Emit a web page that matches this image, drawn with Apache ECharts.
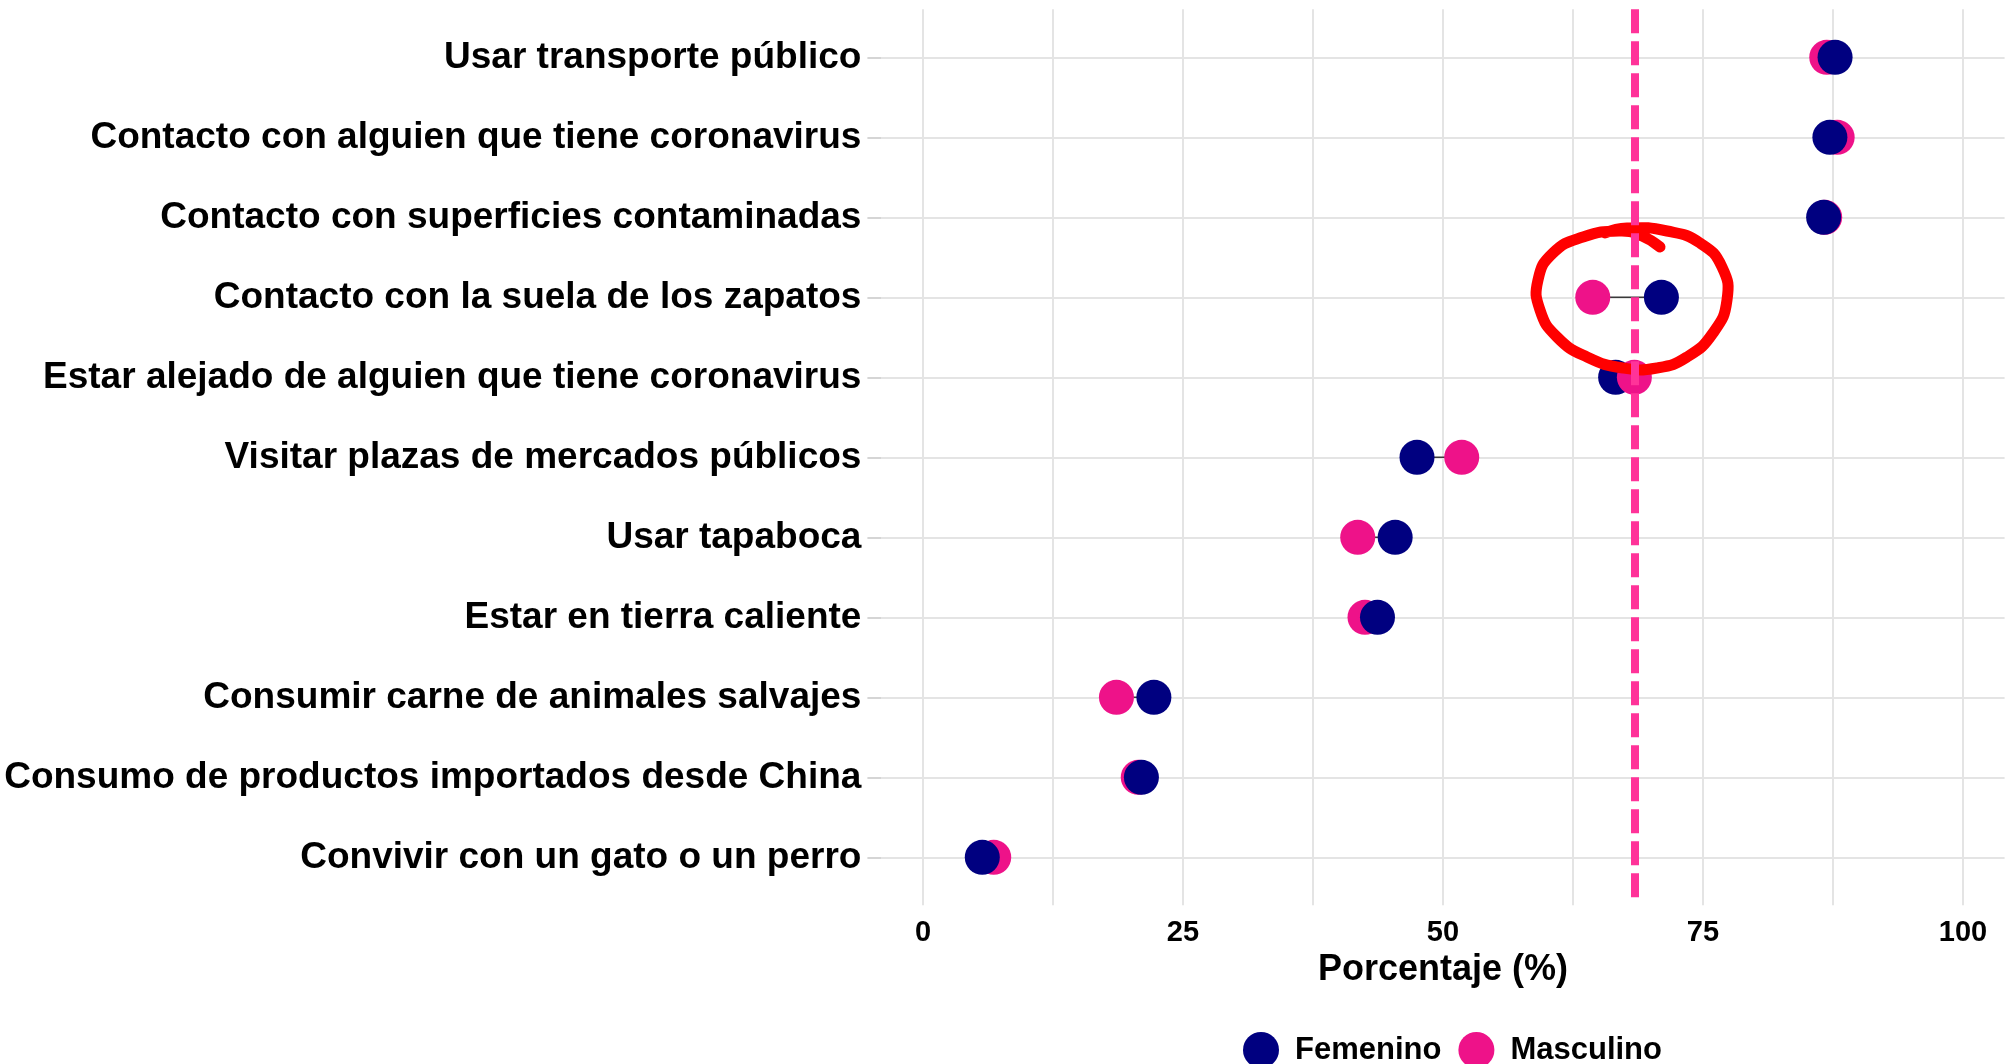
<!DOCTYPE html>
<html>
<head>
<meta charset="utf-8">
<script src="https://cdn.jsdelivr.net/npm/echarts@6/dist/echarts.min.js"></script>
<style>
  html, body { margin: 0; padding: 0; background: #fff; }
  #chart { width: 2005px; height: 1064px; }
</style>
</head>
<body>
<div id="chart"></div>
<script>
// categorias, de arriba hacia abajo
const categorias = [
  "Usar transporte público",
  "Contacto con alguien que tiene coronavirus",
  "Contacto con superficies contaminadas",
  "Contacto con la suela de los zapatos",
  "Estar alejado de alguien que tiene coronavirus",
  "Visitar plazas de mercados públicos",
  "Usar tapaboca",
  "Estar en tierra caliente",
  "Consumir carne de animales salvajes",
  "Consumo de productos importados desde China",
  "Convivir con un gato o un perro"
];
const femenino  = [87.7, 87.2, 86.6, 71.0, 66.6, 47.5, 45.4, 43.7, 22.2, 21.0, 5.7];
const masculino = [86.9, 87.9, 86.7, 64.4, 68.4, 51.8, 41.8, 42.5, 18.6, 20.7, 6.8];
const masculinoEncima = [4];   // filas donde el punto rosa queda por encima
const lineaReferencia = 68.4;
const ticksX = [0, 25, 50, 75, 100];
const lineasX = [0, 12.5, 25, 37.5, 50, 62.5, 75, 87.5, 100];
const filas = categorias.map((c, i) => i);

const fuente = 'Liberation Sans, Arial, sans-serif';
const azul = '#000080';
const rosa = '#EE1289';
const gris = '#e4e4e4';

let chart = echarts.init(document.getElementById('chart'));

let option = {
  animation: false,
  backgroundColor: '#fff',
  textStyle: { fontFamily: fuente },
  grid: {
    left: 881.4,
    right: 0.4,
    top: 9.3,
    bottom: 158.7,
    containLabel: false,
    outerBoundsMode: 'none'
  },
  legend: {
    data: ['Femenino', 'Masculino'],
    left: 1238,
    top: 1027,
    icon: 'circle',
    itemWidth: 36,
    itemHeight: 36,
    itemGap: 17,
    selectedMode: false,
    textStyle: {
      fontSize: 31,
      fontWeight: 'bold',
      color: '#000',
      fontFamily: fuente,
      padding: [0, 0, 0, 11]
    }
  },
  xAxis: {
    type: 'value',
    min: -4,
    max: 104,
    axisLine: { show: false, onZero: false },
    axisTick: { show: false, customValues: lineasX },
    axisLabel: {
      customValues: ticksX,
      fontSize: 29,
      fontWeight: 'bold',
      color: '#000',
      fontFamily: fuente,
      margin: 13
    },
    splitLine: {
      show: true,
      customValues: lineasX,
      lineStyle: { color: gris, width: 2 }
    },
    name: 'Porcentaje (%)',
    nameLocation: 'middle',
    nameGap: 45,
    nameTextStyle: {
      fontSize: 36,
      fontWeight: 'bold',
      color: '#000',
      fontFamily: fuente
    }
  },
  yAxis: {
    type: 'value',
    min: -0.6,
    max: 10.6,
    inverse: true,
    axisLine: { show: false, onZero: false },
    axisTick: {
      show: true,
      customValues: filas,
      length: 14,
      lineStyle: { color: '#c8c8c8', width: 1.5 }
    },
    axisLabel: {
      customValues: filas,
      formatter: v => categorias[Math.round(v)],
      fontSize: 37,
      fontWeight: 'bold',
      color: '#000',
      fontFamily: fuente,
      margin: 20
    },
    splitLine: {
      show: true,
      customValues: filas,
      lineStyle: { color: gris, width: 2 }
    }
  },
  graphic: [
    {
      // circulo rojo dibujado a mano
      type: 'polyline',
      z: 4,
      silent: true,
      shape: {
        smooth: 0.5,
        points: [
          [1660, 247], [1642, 236], [1620, 231], [1583, 237], [1553, 253],
          [1538, 280], [1540, 310], [1557, 337], [1587, 357], [1623, 368],
          [1657, 368], [1687, 357], [1713, 333], [1727, 300], [1722, 267],
          [1700, 243], [1667, 231], [1627, 228], [1605, 233]
        ]
      },
      style: { stroke: '#ff0000', fill: null, lineWidth: 11, lineCap: 'round', lineJoin: 'round' }
    }
  ],
  series: [
    {
      // segmento entre los dos puntos
      type: 'custom',
      z: 1,
      silent: true,
      encode: { x: [0, 1], y: 2 },
      data: filas.map(i => [masculino[i], femenino[i], i]),
      renderItem(params, api) {
        let a = api.coord([api.value(0), api.value(2)]);
        let b = api.coord([api.value(1), api.value(2)]);
        return {
          type: 'line',
          shape: { x1: a[0], y1: a[1], x2: b[0], y2: b[1] },
          style: { stroke: '#3a3a3a', lineWidth: 1.5 }
        };
      }
    },
    {
      name: 'Masculino',
      type: 'scatter',
      z: 2,
      symbol: 'circle',
      symbolSize: 35,
      itemStyle: { color: rosa, opacity: 1 },
      emphasis: { disabled: true },
      data: filas.filter(i => masculinoEncima.indexOf(i) < 0).map(i => [masculino[i], i])
    },
    {
      name: 'Femenino',
      type: 'scatter',
      z: 2,
      symbol: 'circle',
      symbolSize: 35,
      itemStyle: { color: azul, opacity: 1 },
      emphasis: { disabled: true },
      data: filas.map(i => [femenino[i], i])
    },
    {
      name: 'Masculino',
      type: 'scatter',
      z: 3,
      symbol: 'circle',
      symbolSize: 35,
      itemStyle: { color: rosa, opacity: 1 },
      emphasis: { disabled: true },
      data: masculinoEncima.map(i => [masculino[i], i]),
      markLine: {
        silent: true,
        z: 10,
        symbol: ['none', 'none'],
        label: { show: false },
        emphasis: { disabled: true },
        lineStyle: { color: '#ff3399', width: 8, type: [24, 8], opacity: 1 },
        data: [{ xAxis: lineaReferencia }]
      }
    }
  ]
};
chart.setOption(option);
</script>
</body>
</html>
